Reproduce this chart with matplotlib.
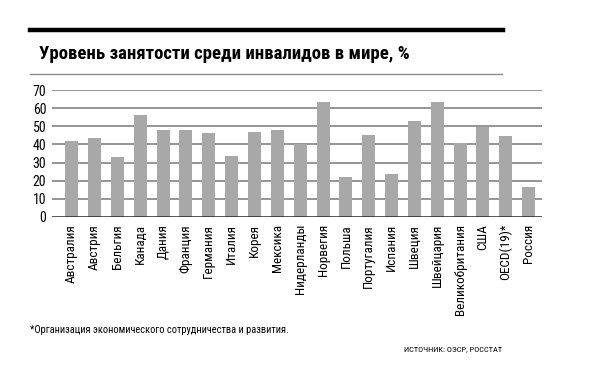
import matplotlib.pyplot as plt
from matplotlib import font_manager
from matplotlib.ft2font import FT2Font

countries = [
    "Австралия", "Австрия", "Бельгия", "Канада", "Дания", "Франция",
    "Германия", "Италия", "Корея", "Мексика", "Нидерланды", "Норвегия",
    "Польша", "Португалия", "Испания", "Швеция", "Швейцария",
    "Великобритания", "США", "OECD(19)*", "Россия",
]
values = [
    42.0, 43.4, 33.3, 56.2, 48.0, 48.0,
    46.5, 33.8, 47.0, 48.0, 40.2, 63.2,
    22.2, 45.2, 23.7, 53.1, 63.4,
    40.6, 49.8, 44.8, 16.7,
]
y_ticks = [0, 10, 20, 30, 40, 50, 60, 70]

TITLE = "Уровень занятости среди инвалидов в мире, %"
FOOTNOTE = "*Организация экономического сотрудничества и развития."
SOURCE = "ИСТОЧНИК: ОЭСР, РОССТАТ"


def has_cyrillic(fname):
    try:
        return 0x416 in FT2Font(fname).get_charmap()
    except Exception:
        return False


def pick_condensed_font():
    preferred = ["Roboto Condensed", "PT Sans Narrow", "Fira Sans Condensed",
                 "IBM Plex Sans Condensed", "Open Sans Condensed",
                 "Liberation Sans Narrow", "Arimo Narrow", "Archivo Narrow"]
    fonts = font_manager.fontManager.ttflist
    for name in preferred:
        for f in fonts:
            if f.name == name and has_cyrillic(f.fname):
                return name
    for f in fonts:
        if f.stretch == "condensed" and "Barlow" not in f.name and has_cyrillic(f.fname):
            return f.name
    return "DejaVu Sans"


narrow = pick_condensed_font()
plt.rcParams["font.family"] = [narrow, "DejaVu Sans"]

fig = plt.figure(figsize=(6.0, 3.86), dpi=100)
ax = fig.add_axes([51.7 / 600, 1 - 217 / 386, 490 / 600, 127 / 386])

x = list(range(len(countries)))
ax.bar(x, values, width=0.57, color="#a8a8a8", zorder=3)

for t in y_ticks[1:]:
    ax.axhline(t, color="#8c8c8c", linewidth=1.3, zorder=1)
ax.axhline(0, color="#222222", linewidth=1.8, zorder=4)

ax.set_xlim(-0.875, 20.57)
ax.set_ylim(0, 70)
ax.set_yticks(y_ticks)
ax.set_yticklabels([str(t) for t in y_ticks], fontsize=10)
ax.set_xticks(x)
ax.set_xticklabels(countries, rotation=90, fontsize=9.5, va="top", ha="center")
ax.tick_params(length=0, pad=5)
ax.tick_params(axis="y", pad=4)
for s in ax.spines.values():
    s.set_visible(False)

# header lines and title
fig.add_artist(plt.Line2D([30 / 600, 503 / 600], [1 - 29.5 / 386] * 2,
                          color="black", linewidth=3.2))
fig.add_artist(plt.Line2D([30 / 600, 502 / 600], [1 - 74 / 386] * 2,
                          color="#8c8c8c", linewidth=1.0))
fig.text(39 / 600, 1 - 59 / 386, TITLE, fontsize=13.5, fontweight="heavy",
         va="baseline", ha="left")

fig.text(30 / 600, 1 - 333 / 386, FOOTNOTE, fontsize=7.5, va="baseline", ha="left")
fig.text(502 / 600, 1 - 351 / 386, SOURCE, fontsize=6, va="baseline", ha="right")

fig.savefig("out.png", dpi=100, facecolor="white")
